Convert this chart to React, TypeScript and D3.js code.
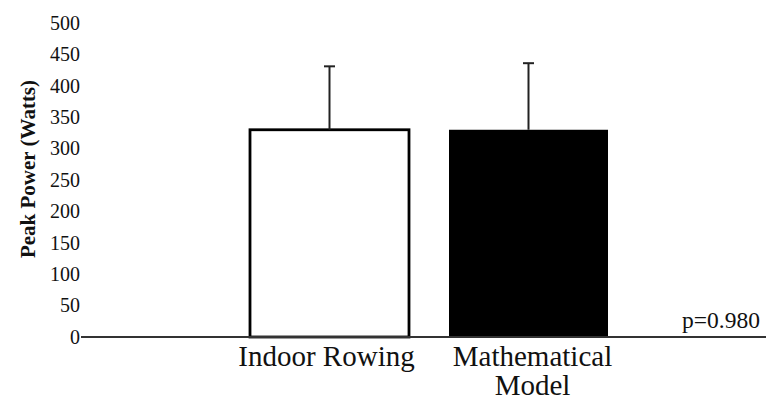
import React from 'react';
import * as d3 from 'd3';

const categories = ['Indoor Rowing', 'Mathematical Model'];
const labelLines = [['Indoor Rowing'], ['Mathematical', 'Model']];
const means = [330, 330];
const sds = [101, 106];
const fills = ['#ffffff', '#000000'];
const yTicks = [0, 50, 100, 150, 200, 250, 300, 350, 400, 450, 500];
const pLabel = 'p=0.980';

const W = 767;
const H = 401;
const FONT = "'Liberation Serif', 'Times New Roman', Times, serif";

const App = () => {
  const y = d3.scaleLinear().domain([0, 500]).range([337, 23]);
  const x = d3
    .scaleBand<string>()
    .domain(categories)
    .range([230, 628])
    .paddingInner(0.201)
    .paddingOuter(0.1005);

  return (
    <svg
      width={W}
      height={H}
      style={{ position: 'absolute', left: 0, top: 0, background: '#fff', fontFamily: FONT }}
    >
      {/* y tick labels, no axis line */}
      {yTicks.map((t) => (
        <text key={t} x={80} y={y(t)} dy="0.34em" textAnchor="end" fontSize={20} fill="#111">
          {t}
        </text>
      ))}

      <text
        transform={`translate(35, ${169}) rotate(-90)`}
        textAnchor="middle"
        fontSize={21}
        fontWeight="bold"
        fill="#111"
      >
        Peak Power (Watts)
      </text>

      {/* bars */}
      {categories.map((c, i) => (
        <rect
          key={c}
          x={x(c)}
          y={y(means[i])}
          width={x.bandwidth()}
          height={y(0) - y(means[i])}
          fill={fills[i]}
          stroke="#000"
          strokeWidth={i === 0 ? 2.8 : 0}
        />
      ))}

      {/* error bars */}
      {categories.map((c, i) => {
        const cx = (x(c) ?? 0) + x.bandwidth() / 2;
        const top = y(means[i] + sds[i]);
        return (
          <g key={c} stroke="#222" strokeWidth={2}>
            <line x1={cx} x2={cx} y1={y(means[i])} y2={top} />
            <line x1={cx - 5.5} x2={cx + 5.5} y1={top} y2={top} />
          </g>
        );
      })}

      {/* x axis line */}
      <line x1={81} x2={766} y1={y(0)} y2={y(0)} stroke="#333" strokeWidth={2} />

      {/* category labels */}
      {categories.map((c, i) => {
        const cx = (x(c) ?? 0) + x.bandwidth() / 2 + (i === 0 ? -3 : 4);
        return (
          <text key={c} x={cx} y={366} textAnchor="middle" fontSize={29} fill="#111">
            {labelLines[i].map((line, j) => (
              <tspan key={j} x={cx} dy={j === 0 ? 0 : 29}>
                {line}
              </tspan>
            ))}
          </text>
        );
      })}

      <text x={760} y={328} textAnchor="end" fontSize={23.5} fill="#111">
        {pLabel}
      </text>
    </svg>
  );
};

export default App;
